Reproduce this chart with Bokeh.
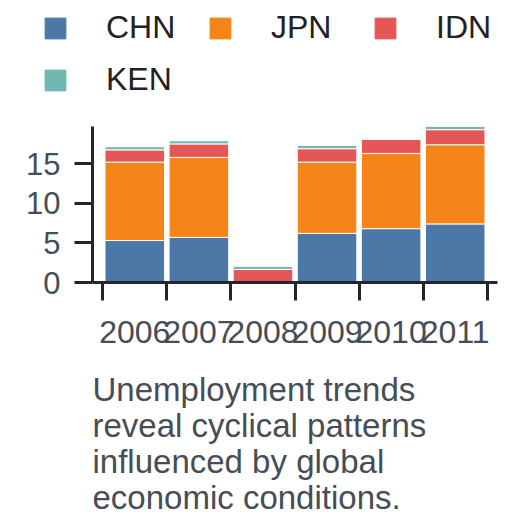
from bokeh.plotting import figure
from bokeh.layouts import column
from bokeh.models import (ColumnDataSource, Range1d, FixedTicker, PrintfTickFormatter,
                          Legend, LegendItem, Title)
from bokeh.embed import file_html
from bokeh.resources import INLINE

years = [2006, 2007, 2008, 2009, 2010, 2011]
countries = ["CHN", "JPN", "IDN", "KEN"]
chn = [5.3, 5.7, 0.0, 6.2, 6.8, 7.4]
jpn = [9.9, 10.1, 0.0, 9.0, 9.5, 10.0]
idn = [1.55, 1.7, 1.65, 1.7, 1.8, 1.9]
ken = [0.4, 0.4, 0.4, 0.4, 0.0, 0.4]
colors = ["#4c78a8", "#f58518", "#e45756", "#72b7b2"]
y_ticks = [0, 5, 10, 15]
caption = "Unemployment trends\nreveal cyclical patterns\ninfluenced by global\neconomic conditions."

TEXT = "#474d55"
AXIS = "#23262b"
FONT = "Liberation Sans"
W = 520
LEG_H = 110

src = ColumnDataSource(dict(year=years, CHN=chn, JPN=jpn, IDN=idn, KEN=ken))
totals = [a + b + c + d for a, b, c, d in zip(chn, jpn, idn, ken)]

# ---- legend strip (own figure, no axes, frame covers everything) ----
lg = figure(output_backend="svg", toolbar_location=None,
            x_range=Range1d(0, 1), y_range=Range1d(0, 1),
            x_axis_location=None, y_axis_location=None,
            min_border=0, min_border_left=0, min_border_right=0,
            min_border_top=0, min_border_bottom=0, outline_line_color=None)
lg.frame_width = W
lg.frame_height = LEG_H
lg.grid.visible = False
# off-range swatch sources so that only the legend shows them
lrs = [lg.vbar(x=[-10], top=[-10], width=1, color=c) for c in colors]
legend = Legend(items=[LegendItem(label=c, renderers=[r]) for c, r in zip(countries, lrs)],
                location=(42, 12), orientation="horizontal", ncols=3,
                glyph_width=26, glyph_height=26, label_standoff=38, label_width=86,
                label_height=26, spacing=15, padding=0, margin=0,
                border_line_color=None, background_fill_alpha=0,
                label_text_font=FONT, label_text_font_size="32px",
                label_text_color="#222222")
lg.add_layout(legend, "center")

# ---- main chart ----
p = figure(output_backend="svg", toolbar_location=None,
           x_range=Range1d(years[0] - 0.66, years[-1] + 0.66),
           y_range=Range1d(0, max(totals)),
           min_border_left=92, min_border_right=W - 92 - 405, min_border_top=126 - LEG_H,
           min_border_bottom=0)
p.frame_width = 405
p.frame_height = 156
p.outline_line_color = None
p.grid.visible = False
p.background_fill_color = "white"
p.border_fill_color = "white"

rs = p.vbar_stack(countries, x="year", width=0.93, source=src, color=colors,
                  line_color="white", line_width=1)

xa = p.xaxis[0]
xa.ticker = FixedTicker(ticks=years, minor_ticks=[y - 0.5 for y in years] + [years[-1] + 0.5])
xa.formatter = PrintfTickFormatter(format="%d")
xa.major_tick_out = 0
xa.major_tick_in = 0
xa.minor_tick_out = 18
xa.minor_tick_in = 0
xa.minor_tick_line_color = AXIS
xa.minor_tick_line_width = 3
xa.axis_line_color = AXIS
xa.axis_line_width = 3
xa.major_label_standoff = 20
xa.major_label_text_font = FONT
xa.major_label_text_font_size = "32px"
xa.major_label_text_color = TEXT

ya = p.yaxis[0]
ya.ticker = FixedTicker(ticks=y_ticks, minor_ticks=[])
ya.major_tick_out = 18
ya.major_tick_in = 0
ya.major_tick_line_color = AXIS
ya.major_tick_line_width = 3
ya.axis_line_color = AXIS
ya.axis_line_width = 3
ya.major_label_standoff = 14
ya.major_label_text_font = FONT
ya.major_label_text_font_size = "31px"
ya.major_label_text_color = TEXT

title = Title(text=caption, align="left", text_font=FONT, text_font_size="33px",
              text_font_style="normal", text_color=TEXT, text_line_height=0.97,
              offset=0, standoff=47)
p.add_layout(title, "below")

layout = column(lg, p, spacing=0)
open("out.html", "w").write(file_html(layout, INLINE))
